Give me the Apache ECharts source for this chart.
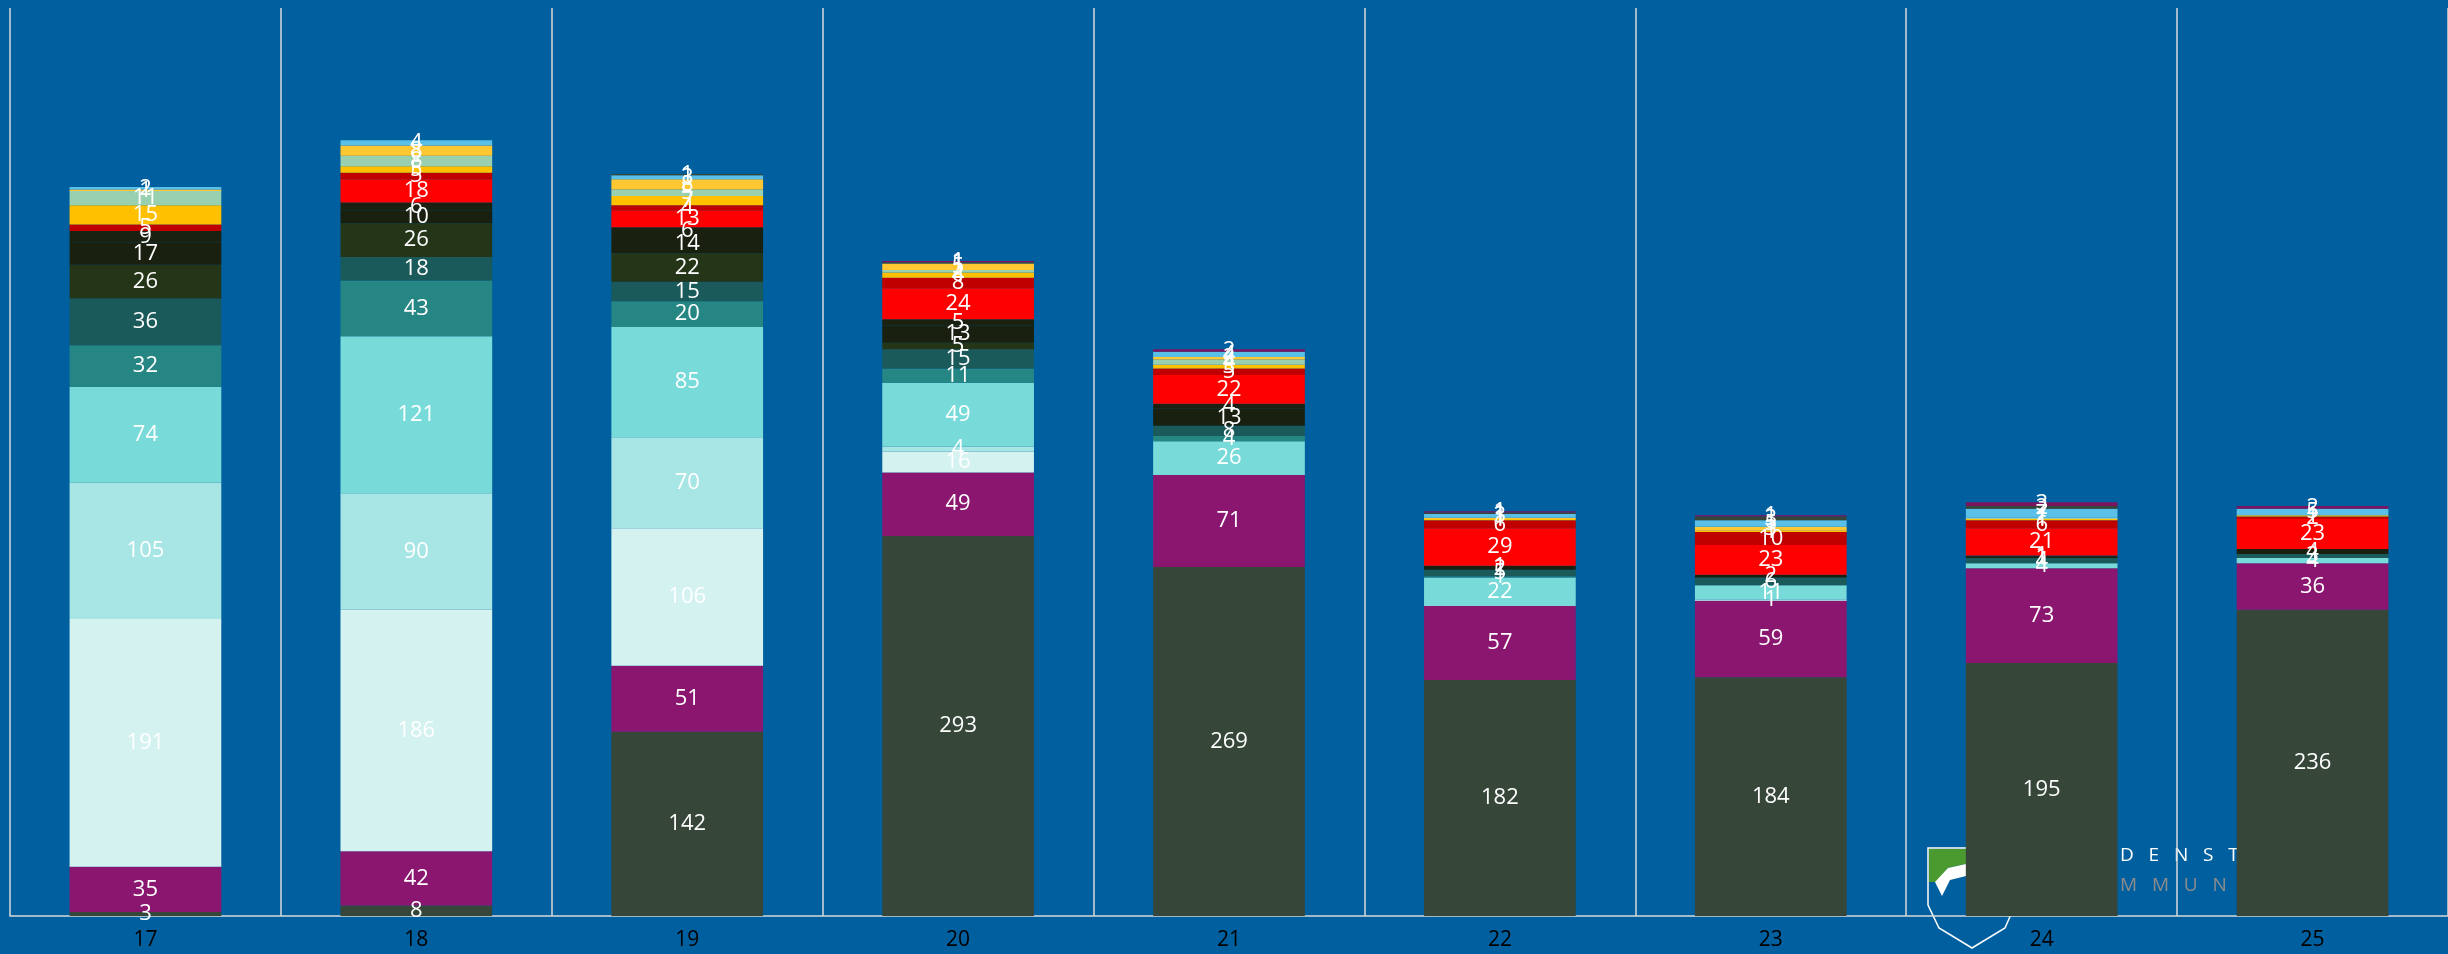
<!DOCTYPE html>
<html>
<head>
<meta charset="utf-8">
<script src="https://cdn.jsdelivr.net/npm/echarts@6/dist/echarts.min.js"></script>
<style>
  html, body { margin: 0; padding: 0; background: #005f9f; }
  #main { width: 2448px; height: 954px; }
</style>
</head>
<body>
<div id="main"></div>
<script>
// kategorier (x-akse)
var categories = ['17', '18', '19', '20', '21', '22', '23', '24', '25'];

// serier, nedefra og op i stakken
var s1  = [3, 8, 142, 293, 269, 182, 184, 195, 236];
var s2  = [35, 42, 51, 49, 71, 57, 59, 73, 36];
var s3  = [191, 186, 106, 16, 0, 0, 1, 0, 0];
var s4  = [105, 90, 70, 4, 0, 0, 0, 0, 0];
var s5  = [74, 121, 85, 49, 26, 22, 11, 4, 4];
var s6  = [32, 43, 20, 11, 4, 1, 0, 0, 0];
var s7  = [36, 18, 15, 15, 8, 5, 6, 4, 3];
var s8  = [26, 26, 22, 5, 0, 0, 0, 0, 0];
var s9  = [17, 10, 14, 13, 13, 2, 2, 1, 4];
var s10 = [9, 6, 6, 5, 4, 1, 0, 1, 0];
var s11 = [0, 18, 13, 24, 22, 29, 23, 21, 23];
var s12 = [5, 5, 4, 8, 5, 6, 10, 6, 2];
var s13 = [15, 5, 7, 4, 3, 1, 1, 1, 1];
var s14 = [11, 8, 5, 2, 4, 0, 0, 1, 0];
var s15 = [1, 8, 8, 5, 2, 1, 3, 0, 0];
var s16 = [2, 4, 3, 0, 4, 3, 5, 7, 5];
var s17 = [0, 0, 1, 1, 0, 1, 3, 2, 0];
var s18 = [0, 0, 0, 1, 2, 1, 1, 3, 2];

var seriesData = [s1, s2, s3, s4, s5, s6, s7, s8, s9, s10, s11, s12, s13, s14, s15, s16, s17, s18];
var colors = ['#36473a', '#8b1670', '#d3f2f0', '#a8e5e5', '#79dbd9', '#268683', '#1b5a5a', '#243518',
  '#19200f', '#1a2111', '#ff0000', '#c00000', '#ffc000', '#99d0b0', '#ffc832', '#5bc0e8', '#36473a', '#7b1460'];

var chart = echarts.init(document.getElementById('main'));

var series = seriesData.map(function (d, i) {
  return {
    name: 'Serie ' + (i + 1),
    type: 'bar',
    stack: 'total',
    barWidth: '56%',
    itemStyle: { color: colors[i] },
    label: {
      show: true,
      position: 'inside',
      color: '#fff',
      fontFamily: 'Open Sans',
      fontSize: 22,
      // skjul nuller
      formatter: function (p) { return p.value ? p.value : ''; }
    },
    data: d
  };
});

var option = {
  backgroundColor: '#005f9f',
  animation: false,
  grid: { left: 10, right: 0, top: 8, bottom: 38 },
  xAxis: {
    type: 'category',
    data: categories,
    axisLine: { lineStyle: { color: '#d9d9d9', width: 1.5 } },
    axisTick: { show: false },
    splitLine: { show: true, lineStyle: { color: '#d9d9d9', width: 1.5 } },
    axisLabel: { color: '#000', fontFamily: 'Open Sans', fontSize: 21, margin: 14 }
  },
  yAxis: {
    type: 'value',
    min: 0,
    max: 700,
    show: false
  },
  // logo i baggrunden (delvist skjult bag søjlerne)
  graphic: [
    {
      type: 'polygon',
      z: 0,
      shape: { points: [[1928, 848], [2015, 848], [2015, 905], [2005, 928], [1972, 948], [1939, 928], [1928, 905]] },
      style: { fill: 'none', stroke: '#fff', lineWidth: 1.5 }
    },
    {
      type: 'polygon',
      z: 0,
      shape: { points: [[1929, 849], [1966, 849], [1966, 864], [1948, 868], [1936, 882], [1929, 882]] },
      style: { fill: '#4b9a2f' }
    },
    {
      type: 'polygon',
      z: 0,
      shape: { points: [[1935, 882], [1948, 868], [1966, 864], [1966, 876], [1950, 880], [1942, 896]] },
      style: { fill: '#fff' }
    },
    {
      type: 'text',
      z: 0,
      x: 2120,
      y: 846,
      style: { text: 'D   E   N   S   T', fill: '#fff', font: '19px "Open Sans"' }
    },
    {
      type: 'text',
      z: 0,
      x: 2120,
      y: 876,
      style: { text: 'M   M   U   N   E', fill: '#8c8c8c', font: '19px "Open Sans"' }
    }
  ],
  series: series
};

chart.setOption(option);
</script>
</body>
</html>
